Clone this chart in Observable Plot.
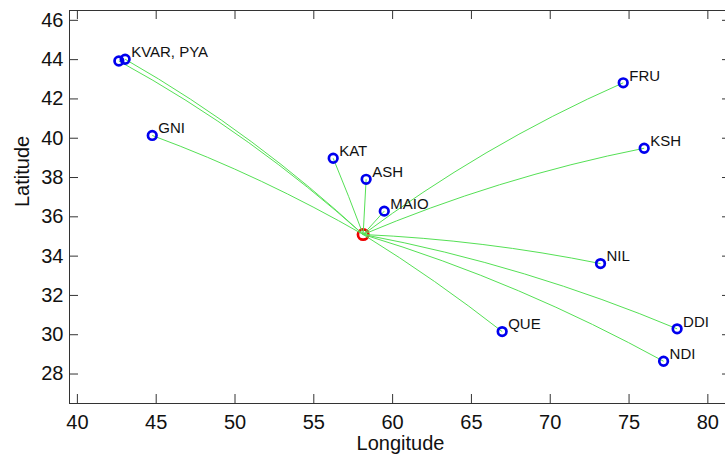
<!DOCTYPE html>
<html><head><meta charset="utf-8">
<script src="https://cdn.jsdelivr.net/npm/d3@7"></script>
<script src="https://cdn.jsdelivr.net/npm/@observablehq/plot@0.6"></script>
<style>
html,body{margin:0;padding:0;background:#fff;overflow:hidden;}
#wrap{position:relative;width:732px;height:454px;}
#wrap svg{position:absolute;left:0;top:0;}
</style></head><body><div id="wrap"></div>
<script>
// ---- data ----
const stations = ["KVAR","PYA","GNI","KAT","ASH","MAIO","FRU","KSH","NIL","QUE","DDI","NDI"];
const stationLon = [42.63,43.03,44.75,56.23,58.32,59.47,74.63,75.96,73.19,66.95,78.05,77.19];
const stationLat = [43.93,44.02,40.14,38.98,37.91,36.29,42.82,39.49,33.62,30.16,30.30,28.65];
const stationLabels = ["","KVAR, PYA","GNI","KAT","ASH","MAIO","FRU","KSH","NIL","QUE","DDI","NDI"];
const sourceLon = [58.13];
const sourceLat = [35.10];
const xTicks = [40,45,50,55,60,65,70,75,80];
const yTicks = [28,30,32,34,36,38,40,42,44,46];
const xDomain = [39.5,81.5];
const yDomain = [26.5,46.5];

// ---- layout ----
const W = 732, H = 454;
const M = {top:10, right:1, bottom:51, left:69};
const innerW = W - M.left - M.right, innerH = H - M.top - M.bottom;
const font = "'Liberation Sans', Arial, Helvetica, sans-serif";
const idx = d3.range(stations.length);

const axesChart = Plot.plot({
  width: W, height: H,
  marginTop: M.top, marginRight: M.right, marginBottom: M.bottom, marginLeft: M.left,
  style: {background: "transparent", maxWidth: "none", fontFamily: font, color: "#000", overflow: "hidden"},
  x: {domain: xDomain},
  y: {domain: yDomain},
  marks: [
    Plot.frame({stroke: "#333", strokeWidth: 1}),
    Plot.tickX(xTicks, {x: d => d, insetTop: innerH - 9, stroke: "#333"}),
    Plot.tickX(xTicks, {x: d => d, insetBottom: innerH - 9, stroke: "#333"}),
    Plot.tickY(yTicks, {y: d => d, insetRight: innerW - 9, stroke: "#333"}),
    Plot.tickY(yTicks, {y: d => d, insetLeft: innerW - 9, stroke: "#333"}),
    Plot.axisX(xTicks, {tickSize: 0, tickPadding: 11, fontSize: 20, label: null, fill: "#111"}),
    Plot.axisY(yTicks, {tickSize: 0, tickPadding: 6, fontSize: 20, label: null, fill: "#111"}),
    Plot.text(["Longitude"], {text: d => d, frameAnchor: "bottom", dy: 46, fontSize: 20, fill: "#111"}),
    Plot.text(["Latitude"], {text: d => d, frameAnchor: "left", dx: -47, rotate: -90, fontSize: 20, fill: "#111"}),
    Plot.dot(idx, {x: i => stationLon[i], y: i => stationLat[i], r: 4.3, stroke: "#0000ee", strokeWidth: 2.7, fill: "none"}),
    Plot.text(idx, {x: i => stationLon[i], y: i => stationLat[i], text: i => stationLabels[i],
      textAnchor: "start", dx: 6, dy: -7, fontSize: 15, fill: "#111"})
  ]
});

// great-circle links drawn through a projection that maps onto the same x/y scales
const sx = axesChart.scale("x"), sy = axesChart.scale("y");
const eq = d3.geoEquirectangular().scale(180 / Math.PI).translate([0, 0]).precision(0.01);
const toFrame = d3.geoTransform({point(x, y) { this.stream.point(sx.apply(x), sy.apply(-y)); }});
const projection = {stream: s => eq.stream(toFrame.stream(s))};

const linkChart = Plot.plot({
  width: W, height: H,
  marginTop: M.top, marginRight: M.right, marginBottom: M.bottom, marginLeft: M.left,
  style: {background: "transparent", maxWidth: "none", overflow: "hidden"},
  projection,
  marks: [
    Plot.dot([0], {x: i => sourceLon[i], y: i => sourceLat[i], r: 5.2, stroke: "#ee0000", strokeWidth: 2.7, fill: "none"}),
    Plot.link(idx, {x1: () => sourceLon[0], y1: () => sourceLat[0],
      x2: i => stationLon[i], y2: i => stationLat[i], stroke: "#55e055", strokeWidth: 1})
  ]
});

const wrap = document.getElementById("wrap");
wrap.appendChild(linkChart);
wrap.appendChild(axesChart);
</script>
</body></html>
